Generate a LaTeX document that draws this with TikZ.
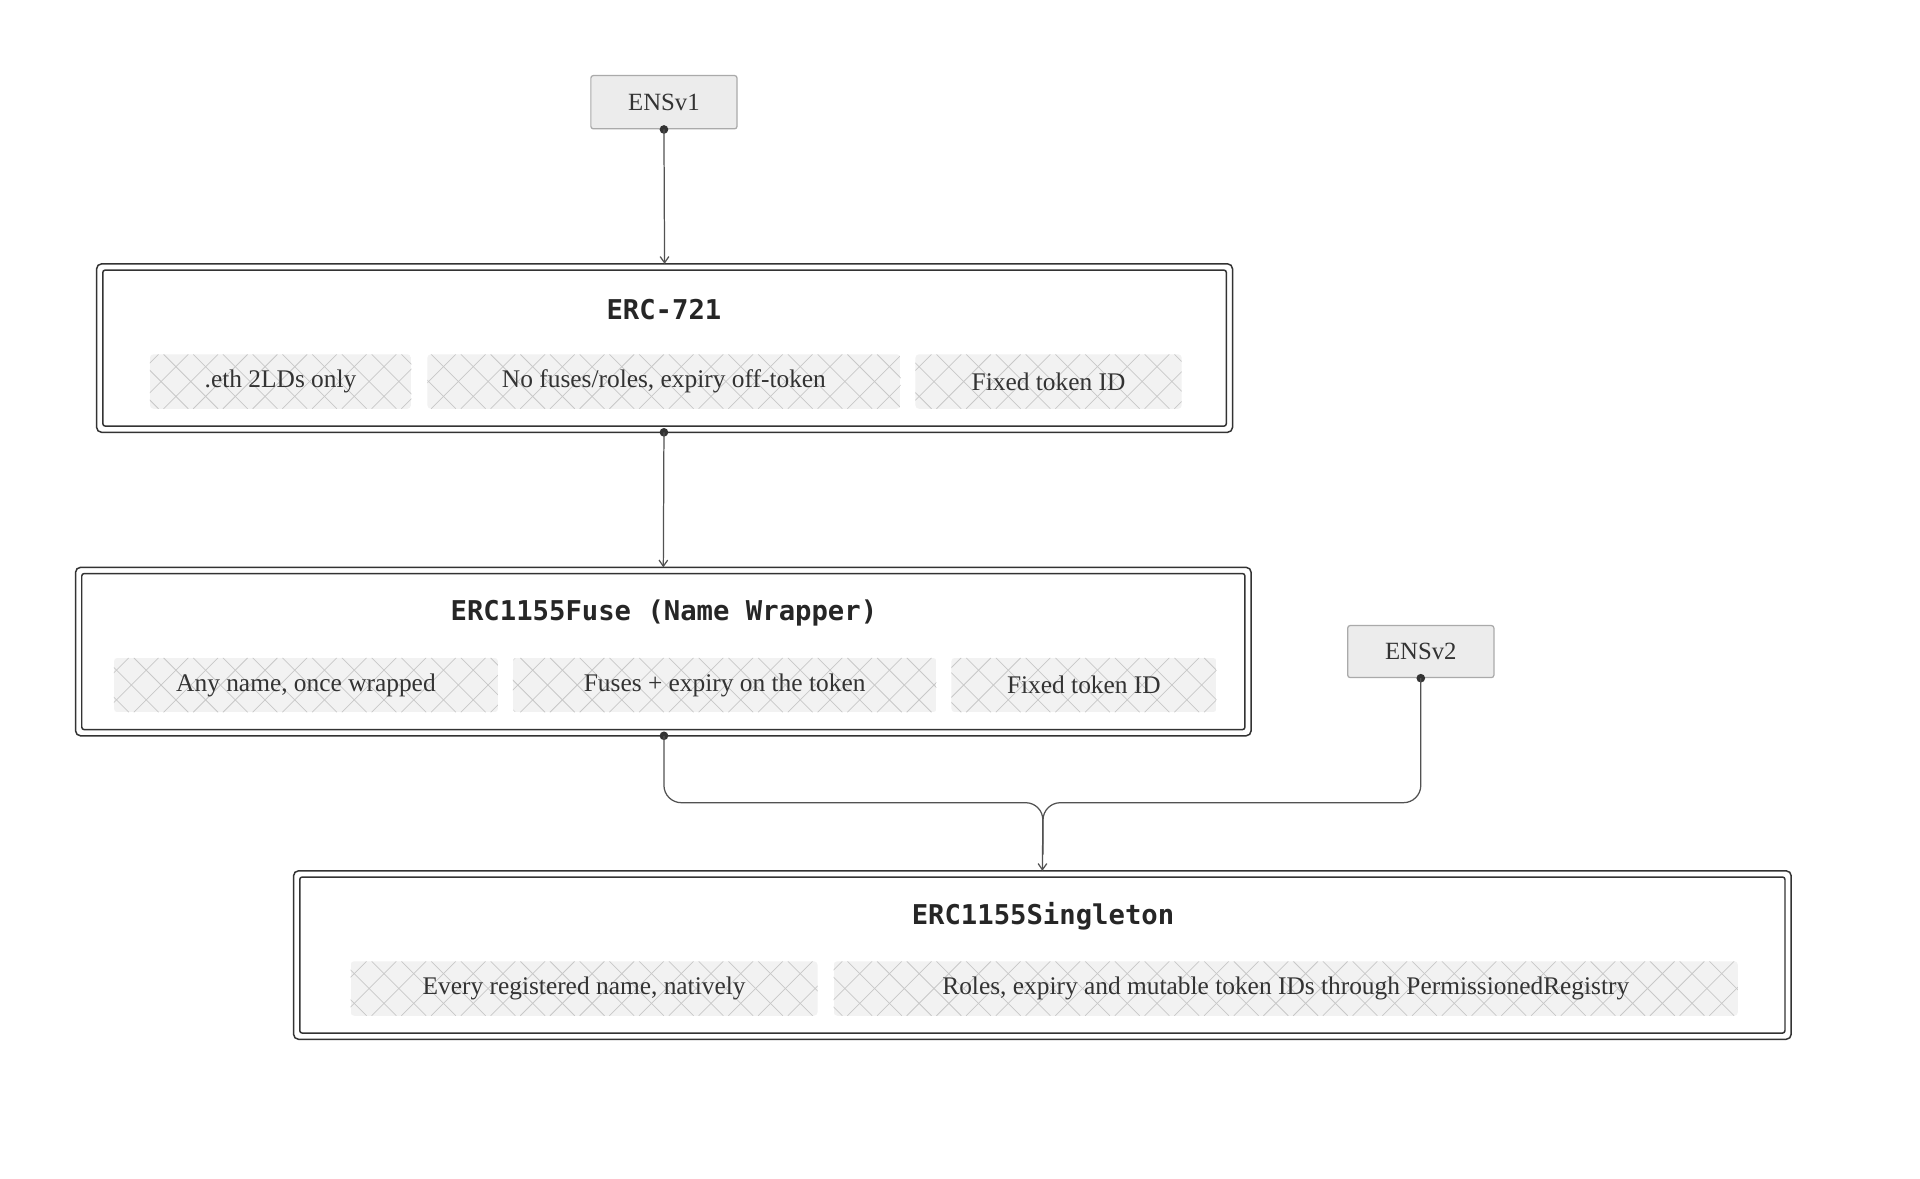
\documentclass[tikz,border=0pt]{standalone}
\usepackage{fontspec}
\setmainfont{Liberation Serif}
\newfontfamily\titlefont{DejaVu Sans Mono}
\usetikzlibrary{arrows.meta}
\definecolor{chipfill}{HTML}{F2F2F2}
\definecolor{hatch}{HTML}{C8C8C8}
\definecolor{ink}{HTML}{333333}
\definecolor{boxfill}{HTML}{ECECEC}
\definecolor{boxline}{HTML}{AAAAAA}
\tikzset{
  x=1pt,y=-1pt,
  small/.style={draw=boxline,fill=boxfill,rounded corners=2pt,line width=1pt,font=\fontsize{20}{22}\selectfont,text=ink,inner sep=0pt},
  conn/.style={draw=ink!85,line width=1pt},
  arr/.style={conn,-{Straight Barb[length=5pt,width=7pt]}},
  title/.style={font=\titlefont\bfseries\fontsize{22}{24}\selectfont,text=black!85},
  chiptext/.style={font=\fontsize{20.5}{22}\selectfont,text=ink},
}
\newcommand{\chip}[6]{% name, x1, x2, y1, y2, text
  \begin{scope}
    \clip[rounded corners=3pt] (#2,#4) rectangle (#3,#5);
    \fill[chipfill] (#2,#4) rectangle (#3,#5);
    \foreach \k in {-60,-36,...,1500}{
      \draw[hatch,line width=0.6pt] (\k,#4) -- ++(44,44);
      \draw[hatch,line width=0.6pt] (\k+44,#4) -- ++(-44,44);
    }
  \end{scope}
  \node[chiptext] (#1) at ({(#2+#3)/2},{(#4+#5)/2}) {#6};
}
\newcommand{\bigbox}[5]{% name x1 x2 y1 y2
  \draw[black!80,line width=1.2pt,rounded corners=4pt] (#2,#4) rectangle (#3,#5);
  \draw[black!80,line width=1.2pt,rounded corners=2pt] (#2+5,#4+5) rectangle (#3-5,#5-5);
  \coordinate (#1top) at ({(#2+#3)/2},#4);
}
\begin{document}
\begin{tikzpicture}
\useasboundingbox (0,0) rectangle (1550,951);
\fill[white] (0,0) rectangle (1550,951);
\node[small,minimum width=118pt,minimum height=43pt] (v1) at (536,82.5) {ENSv1};
\node[small,minimum width=118pt,minimum height=42pt] (v2) at (1147,526) {ENSv2};

\bigbox{A}{78}{995}{213}{349}
\node[title] (At) at (536,250) {ERC-721};
\chip{a1}{121}{332}{286}{330}{.eth 2LDs only}
\chip{a2}{345}{727}{286}{330}{No fuses/roles, expiry off-token}
\chip{a3}{739}{954}{286}{330}{Fixed token ID}

\bigbox{B}{61}{1010}{458}{594}
\node[title] (Bt) at (536,495) {ERC1155Fuse (Name Wrapper)};
\chip{b1}{92}{402}{531}{575}{Any name, once wrapped}
\chip{b2}{414}{756}{531}{575}{Fuses + expiry on the token}
\chip{b3}{768}{982}{531}{575}{Fixed token ID}

\bigbox{C}{237}{1446}{703}{839}
\node[title] (Ct) at (842,740) {ERC1155Singleton};
\chip{c1}{283}{660}{776}{820}{Every registered name, natively}
\chip{c2}{673}{1403}{776}{820}{Roles, expiry and mutable token IDs through PermissionedRegistry}

\coordinate (Abot) at (536,349);
\coordinate (Bbot) at (536,594);
\fill[ink] (v1.south) circle (3.5pt);
\fill[ink] (Abot) circle (3.5pt);
\fill[ink] (Bbot) circle (3.5pt);
\fill[ink] (v2.south) circle (3.5pt);
\draw[arr] (v1.south) -- (Atop);
\draw[arr] (Abot) -- (Btop);
\draw[arr,rounded corners=14pt] (Bbot) |- (842,648) -- (Ctop);
\draw[conn,rounded corners=14pt] (v2.south) |- (842,648) -- (842,690);
\end{tikzpicture}
\end{document}
